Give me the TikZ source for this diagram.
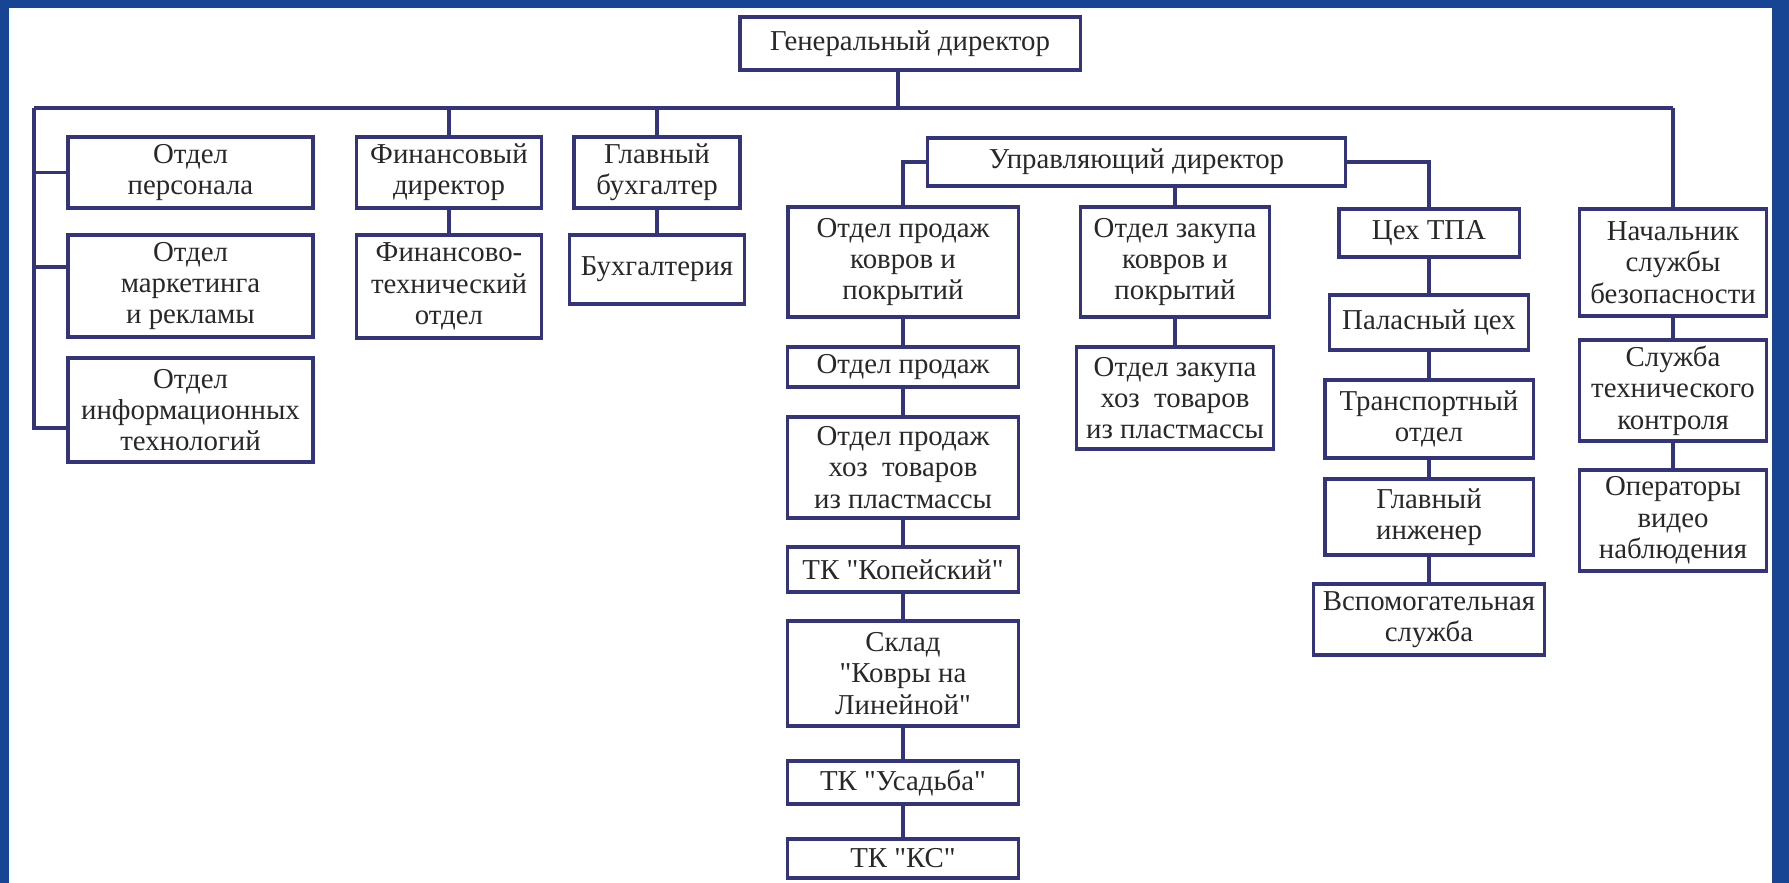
\documentclass[tikz,border=0pt]{standalone}
\usepackage{fontspec}
\setmainfont{Liberation Serif}
\usetikzlibrary{positioning,calc}
\definecolor{slideblue}{RGB}{24,68,148}
\definecolor{chartline}{RGB}{52,52,122}
\definecolor{chartink}{RGB}{40,40,40}
\newcommand{\qt}[1]{\textquotedbl#1\textquotedbl}
\tikzset{
	orgchart/.style={x=0.01cm,y=-0.01cm},
	unit/.style={rectangle,draw=chartline,line width=0.9pt,fill=white,align=center,
		inner sep=0pt,text=chartink,font=\fontsize{8.2}{8.9}\selectfont},
	dims/.style 2 args={minimum width=#1cm,minimum height=#2cm},
	link/.style={draw=chartline,line width=0.9pt}
}

\begin{document}
\begin{tikzpicture}[orgchart]

	% slide frame
	\useasboundingbox (0,0) rectangle (1789,883);
	\fill[slideblue] (0,0) rectangle (1789,883);
	\fill[white] (9,8) rectangle (1772,883);

	\node[unit,dims={3.40}{0.53}] (gd) at (910,43.5) {Генеральный директор};

	% left column
	\node[unit,dims={2.45}{0.71}] (pers) at (190.5,172.5) {Отдел\\персонала};
	\node[unit,dims={2.45}{1.02}] (mkt) at (190.5,286) {Отдел\\маркетинга\\и рекламы};
	\node[unit,dims={2.45}{1.04}] (it) at (190.5,410) {Отдел\\информационных\\технологий};

	\node[unit,dims={1.85}{0.71}] (fd) at (449,172.5) {Финансовый\\директор};
	\node[unit,dims={1.85}{1.03}] (fto) at (449,286.5) {Финансово-\\технический\\отдел};

	\node[unit,dims={1.66}{0.71}] (gb) at (657,172.5) {Главный\\бухгалтер};
	\node[unit,dims={1.75}{0.69}] (buh) at (657,269.5) {Бухгалтерия};

	% managing director
	\node[unit,dims={4.17}{0.48}] (ud) at (1136.5,162) {Управляющий директор};

	\node[unit,dims={2.30}{1.10}] (opk) at (903,262) {Отдел продаж\\ковров и\\покрытий};
	\node[unit,dims={2.31}{0.40}] (op) at (903,367) {Отдел продаж};
	\node[unit,dims={2.31}{1.01}] (oph) at (903,467.5) {Отдел продаж\\хоз\ \ товаров\\из пластмассы};
	\node[unit,dims={2.31}{0.45}] (kop) at (903,569.5) {ТК \qt{Копейский}};
	\node[unit,dims={2.31}{1.05}] (sklad) at (903,673.5) {Склад\\\qt{Ковры на\\Линейной}};
	\node[unit,dims={2.31}{0.43}] (usad) at (903,782.5) {ТК \qt{Усадьба}};
	\node[unit,dims={2.31}{0.39}] (ks) at (903,858.5) {ТК \qt{КС}};

	\node[unit,dims={1.89}{1.10}] (ozk) at (1175,262) {Отдел закупа\\ковров и\\покрытий};
	\node[unit,dims={1.97}{1.02}] (ozh) at (1175,398) {Отдел закупа\\хоз\ \ товаров\\из пластмассы};

	\node[unit,dims={1.80}{0.48}] (tpa) at (1429,233) {Цех ТПА};
	\node[unit,dims={1.99}{0.55}] (pal) at (1429,322.5) {Паласный цех};
	\node[unit,dims={2.08}{0.78}] (tr) at (1429,419) {Транспортный\\отдел};
	\node[unit,dims={2.08}{0.76}] (gi) at (1429,517) {Главный\\инженер};
	\node[unit,dims={2.31}{0.71}] (vsp) at (1429,619.5) {Вспомогательная\\служба};

	% security
	\node[unit,dims={1.87}{1.07}] (nsb) at (1673,262.5) {Начальник\\службы\\безопасности};
	\node[unit,dims={1.87}{1.01}] (stk) at (1673,390.5) {Служба\\технического\\контроля};
	\node[unit,dims={1.87}{1.01}] (ovn) at (1673,520.5) {Операторы\\видео\\наблюдения};

	% connectors
	\coordinate (busL) at (34,108);
	\coordinate (busR) at (1673,108);
	\draw[link] (busL) -- (busR);
	\draw[link] ([xshift=-0.12cm]gd.south) -- ([xshift=-0.12cm]gd.south |- busL);
	\draw[link] (busL) |- (pers.west);
	\draw[link] (busL) |- ([yshift=0.19cm]mkt.west);
	\draw[link] (busL) |- ([yshift=-0.18cm]it.west);
	\draw[link] (fd.north) -- (fd.north |- busL);
	\draw[link] (gb.north) -- (gb.north |- busL);
	\draw[link] (busR) -- (nsb.north);
	\draw[link] (ud.west) -| (opk.north);
	\draw[link] (ozk.north) -- (ozk.north |- ud.south);
	\draw[link] (ud.east) -| (tpa.north);
	\foreach \a/\b in {fd/fto,gb/buh,opk/op,op/oph,oph/kop,kop/sklad,sklad/usad,usad/ks,
		ozk/ozh,tpa/pal,pal/tr,tr/gi,gi/vsp,nsb/stk,stk/ovn}
		\draw[link] (\a.south) -- (\b.north);

\end{tikzpicture}
\end{document}
